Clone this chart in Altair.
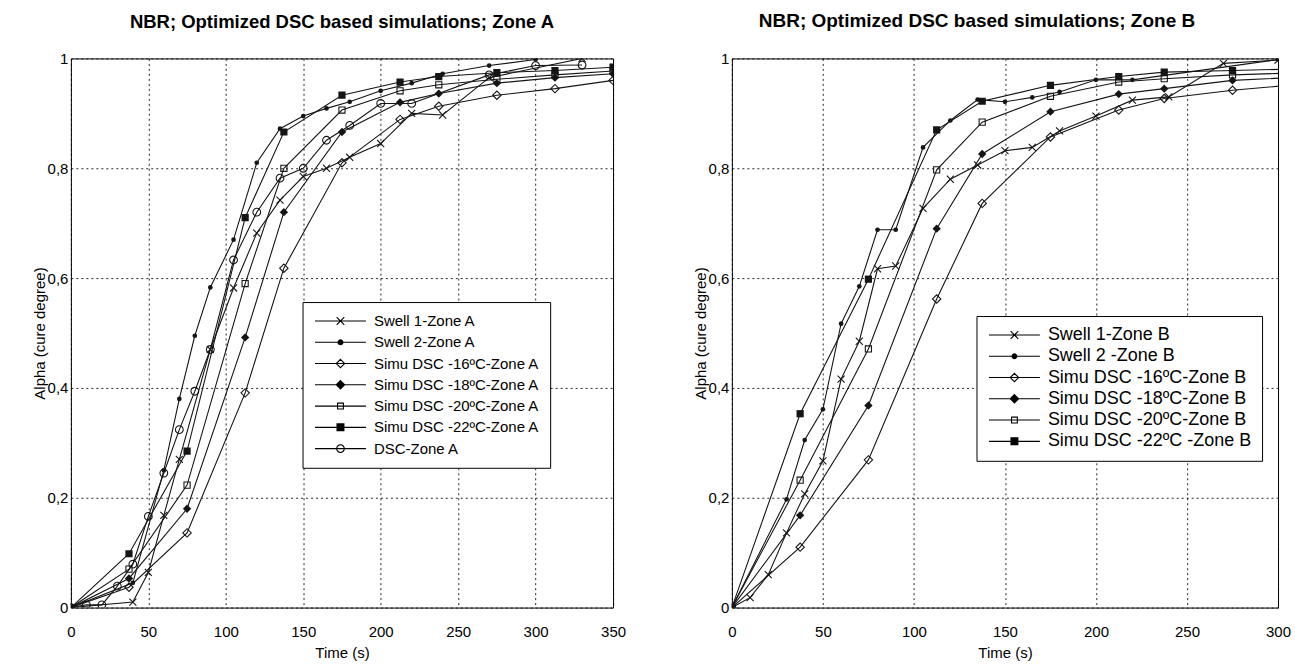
import math
import altair as alt
import pandas as pd

# ---------------- Zone A (left panel) ----------------
A_SWELL1_T = [0, 40, 50, 60, 70, 90, 105, 120, 135, 150, 165, 180, 200, 220, 240, 270, 330]
A_SWELL1_Y = [0, 0.01, 0.064, 0.168, 0.27, 0.47, 0.582, 0.682, 0.742, 0.785, 0.80, 0.82, 0.845, 0.90, 0.897, 0.965, 1.0]

A_SWELL2_T = [0, 40, 60, 70, 80, 90, 105, 120, 135, 150, 165, 180, 200, 220, 240, 270, 300]
A_SWELL2_Y = [0, 0.045, 0.25, 0.38, 0.495, 0.583, 0.67, 0.81, 0.872, 0.895, 0.909, 0.921, 0.941, 0.955, 0.972, 0.987, 0.998]

SIM_T_A = [0, 37.5, 75, 112.5, 137.5, 175, 212.5, 237.5, 275, 312.5, 350]
A_SIM16_Y = [0, 0.037, 0.136, 0.391, 0.618, 0.81, 0.889, 0.913, 0.933, 0.945, 0.96]
A_SIM18_Y = [0, 0.053, 0.18, 0.492, 0.72, 0.866, 0.92, 0.936, 0.955, 0.965, 0.972]
A_SIM20_Y = [0, 0.07, 0.223, 0.59, 0.80, 0.906, 0.941, 0.952, 0.962, 0.97, 0.977]
A_SIM22_Y = [0, 0.098, 0.285, 0.71, 0.866, 0.933, 0.957, 0.967, 0.974, 0.978, 0.984]

A_DSC_T = [0, 10, 20, 30, 40, 50, 60, 70, 80, 90, 105, 120, 135, 150, 165, 180, 200, 220, 270, 300, 330]
A_DSC_Y = [0, 0.005, 0.005, 0.039, 0.079, 0.166, 0.245, 0.324, 0.394, 0.47, 0.633, 0.72, 0.782, 0.80, 0.851, 0.878, 0.918, 0.918, 0.97, 0.987, 0.988]

A_NAMES = ["Swell 1-Zone A", "Swell 2-Zone A", "Simu DSC -16ºC-Zone A", "Simu DSC -18ºC-Zone A",
           "Simu DSC -20ºC-Zone A", "Simu DSC -22ºC-Zone A", "DSC-Zone A"]

# ---------------- Zone B (right panel) ----------------
B_SWELL1_T = [0, 10, 20, 30, 40, 50, 60, 70, 80, 90, 105, 120, 135, 150, 165, 180, 200, 220, 240, 270, 300]
B_SWELL1_Y = [0, 0.018, 0.06, 0.136, 0.207, 0.267, 0.416, 0.485, 0.617, 0.622, 0.727, 0.78, 0.806, 0.832, 0.838, 0.868, 0.895, 0.924, 0.93, 0.991, 0.997]

B_SWELL2_T = [0, 30, 40, 50, 60, 70, 80, 90, 105, 120, 135, 150, 165, 180, 200, 220, 300]
B_SWELL2_Y = [0, 0.197, 0.305, 0.361, 0.517, 0.585, 0.688, 0.688, 0.838, 0.887, 0.925, 0.921, 0.929, 0.939, 0.961, 0.961, 0.998]

SIM_T_B = [0, 37.5, 75, 112.5, 137.5, 175, 212.5, 237.5, 275, 312.5]
B_SIM16_Y = [0, 0.11, 0.269, 0.562, 0.736, 0.857, 0.906, 0.927, 0.942, 0.953]
B_SIM18_Y = [0, 0.168, 0.368, 0.69, 0.826, 0.903, 0.935, 0.945, 0.96, 0.966]
B_SIM20_Y = [0, 0.232, 0.471, 0.797, 0.884, 0.931, 0.957, 0.963, 0.97, 0.974]
B_SIM22_Y = [0, 0.353, 0.598, 0.87, 0.922, 0.951, 0.967, 0.975, 0.978, 0.981]

B_NAMES = ["Swell 1-Zone B", "Swell 2 -Zone B", "Simu DSC -16ºC-Zone B", "Simu DSC -18ºC-Zone B",
           "Simu DSC -20ºC-Zone B", "Simu DSC -22ºC -Zone B"]

Y_TICKS = [0, 0.2, 0.4, 0.6, 0.8, 1]
X_TICKS_A = [0, 50, 100, 150, 200, 250, 300, 350]
X_TICKS_B = [0, 50, 100, 150, 200, 250, 300]

FONT = "Liberation Sans"

X_PATH = "M-1,-1L1,1M-1,1L1,-1"


# ---- legend symbol paths (unit box, a line sample plus the marker) ----
def circle_path(r, n=16):
    pts = [(r * math.cos(2 * math.pi * k / n), r * math.sin(2 * math.pi * k / n)) for k in range(n)]
    return "M" + "L".join(f"{x:.3f},{y:.3f}" for x, y in pts) + "Z"


def diamond_path(h):
    return f"M0,{-h:.3f}L{h:.3f},0L0,{h:.3f}L{-h:.3f},0Z"


def square_path(h):
    return f"M{-h:.3f},{-h:.3f}L{h:.3f},{-h:.3f}L{h:.3f},{h:.3f}L{-h:.3f},{h:.3f}Z"


def solid(fn, h, step=0.018):
    out, k = "", h
    while k > 0:
        out += fn(k)
        k -= step
    return out


LINE = "M-1,0L1,0"
LEG_PATHS = [
    LINE + "M-0.15,-0.15L0.15,0.15M-0.15,0.15L0.15,-0.15",
    LINE + solid(circle_path, 0.095),
    LINE + diamond_path(0.165),
    LINE + solid(diamond_path, 0.165),
    LINE + square_path(0.115),
    LINE + solid(square_path, 0.135),
    LINE + circle_path(0.15),
]
PT_SHAPES = [X_PATH, "circle", "diamond", "diamond", "square", "square", "circle"]
PT_FILLED = [False, True, False, True, False, True, False]
PT_SIZES = [50, 22, 70, 70, 38, 52, 60]


def panel(names, series, xmax, xticks, width, title, title_size, title_dx, leg_x, leg_y, leg_font):
    rows = []
    for name, (ts, ys) in zip(names, series):
        for t, a in zip(ts, ys):
            rows.append({"series": name, "t": t, "a": a})
    df = pd.DataFrame(rows)
    n = len(names)

    xenc = alt.X("t:Q", scale=alt.Scale(domain=[0, xmax], nice=False, zero=False),
                 axis=alt.Axis(values=xticks, title="Time (s)", format="d", labelFlush=False,
                               labelPadding=17, titlePadding=6))
    yenc = alt.Y("a:Q", scale=alt.Scale(domain=[0, 1], nice=False),
                 axis=alt.Axis(values=Y_TICKS, title="Alpha (cure degree)", labelFlush=False,
                               labelPadding=3, titlePadding=0,
                               labelExpr="replace(format(datum.value, '~g'), '.', ',')"))

    base = alt.Chart(df)
    layers = [base.mark_line(color="#151515", strokeWidth=1.1, clip=True).encode(
        x=xenc, y=yenc, detail="series:N")]
    for i, name in enumerate(names):
        layers.append(
            base.transform_filter(alt.datum.series == name)
            .mark_point(shape=PT_SHAPES[i], filled=PT_FILLED[i], size=PT_SIZES[i],
                        color="#151515", strokeWidth=1.1, opacity=1, clip=True)
            .encode(x=xenc, y=yenc)
        )

    leg = alt.Legend(title=None, orient="none", legendX=leg_x, legendY=leg_y,
                     symbolSize=2601, symbolStrokeWidth=1.1, symbolStrokeColor="black",
                     symbolFillColor="transparent", clipHeight=18, rowPadding=3.3,
                     padding=10, labelFontSize=leg_font, labelFont=FONT, labelColor="black",
                     labelOffset=7, symbolOffset=1.5, strokeColor="black", fillColor="white",
                     labelLimit=500, direction="vertical", cornerRadius=0)
    layers.append(
        base.mark_point(opacity=0, size=2601, clip=True).encode(
            x=xenc, y=yenc,
            shape=alt.Shape("series:N", scale=alt.Scale(domain=names, range=LEG_PATHS[:n]), legend=leg),
        )
    )
    return alt.layer(*layers).properties(
        width=width, height=550,
        title=alt.TitleParams(title, font=FONT, fontSize=title_size, fontWeight="bold", color="black",
                              anchor="middle", offset=20, dx=title_dx),
    )


left = panel(
    A_NAMES,
    [(A_SWELL1_T, A_SWELL1_Y), (A_SWELL2_T, A_SWELL2_Y), (SIM_T_A, A_SIM16_Y), (SIM_T_A, A_SIM18_Y),
     (SIM_T_A, A_SIM20_Y), (SIM_T_A, A_SIM22_Y), (A_DSC_T, A_DSC_Y)],
    350, X_TICKS_A, 543, "NBR; Optimized DSC based simulations; Zone A", 18.5, 0, 232, 244, 15,
)
right = panel(
    B_NAMES,
    [(B_SWELL1_T, B_SWELL1_Y), (B_SWELL2_T, B_SWELL2_Y), (SIM_T_B, B_SIM16_Y), (SIM_T_B, B_SIM18_Y),
     (SIM_T_B, B_SIM20_Y), (SIM_T_B, B_SIM22_Y)],
    300, X_TICKS_B, 547, "NBR; Optimized DSC based simulations; Zone B", 19, -28, 245, 258, 18,
)

chart = (
    alt.hconcat(left, right, spacing=119, bounds="flush")
    .resolve_scale(shape="independent")
    .properties(padding={"left": 31, "top": 11, "right": 3, "bottom": 5}, background="white")
    .configure_view(stroke="black", strokeWidth=1)
    .configure_axis(
        grid=True, gridColor="black", gridDash=[2, 3], gridOpacity=0.85, gridWidth=1,
        domain=False, ticks=False, labelFont=FONT, labelFontSize=15, labelColor="black",
        titleFont=FONT, titleFontSize=15, titleFontWeight="normal", titleColor="black",
    )
)

chart.save("out.html", embed_options={"renderer": "svg", "actions": False})
